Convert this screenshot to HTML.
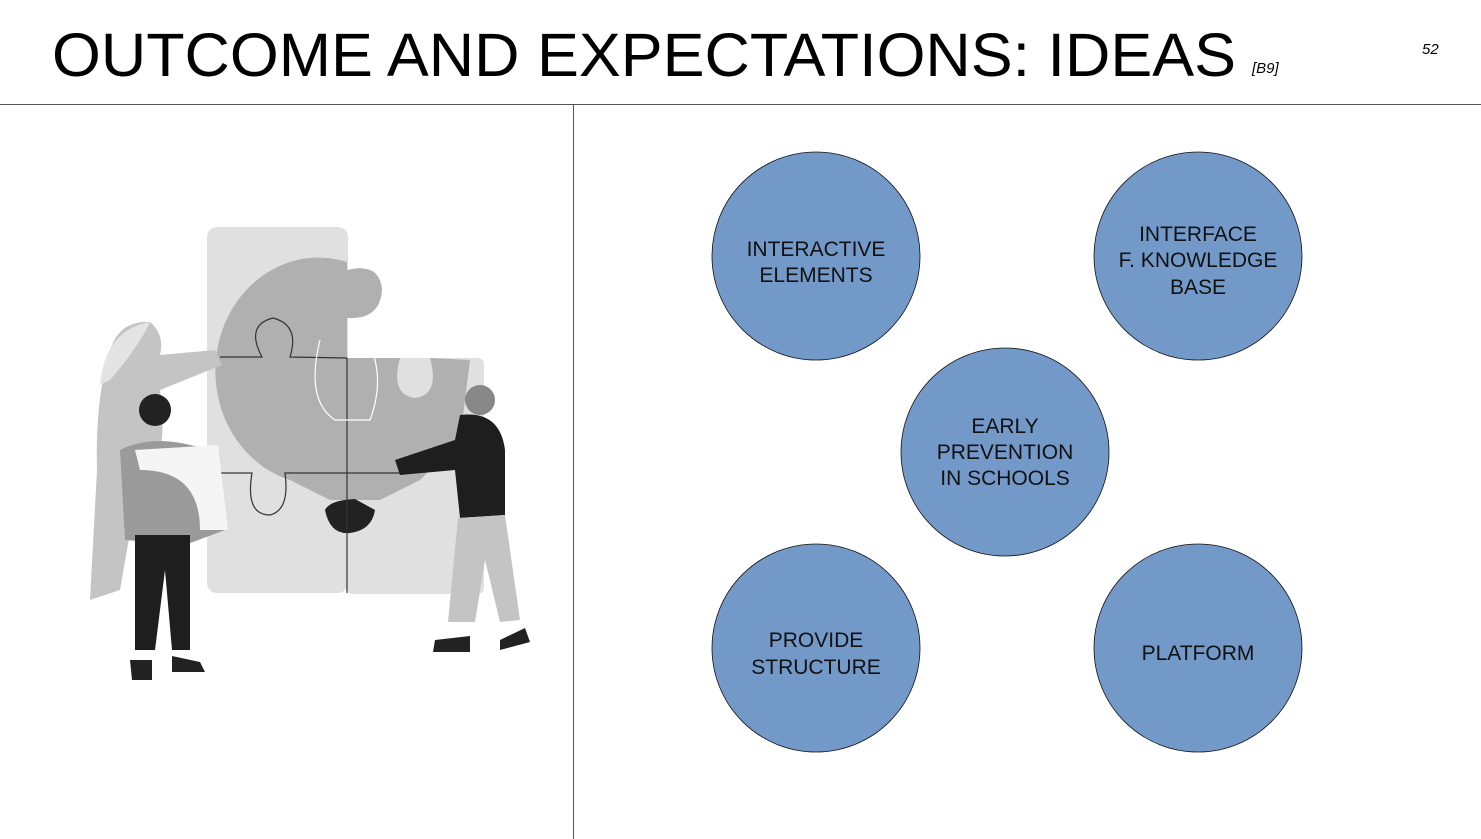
<!DOCTYPE html>
<html><head><meta charset="utf-8"><style>
html,body{margin:0;padding:0;background:#fff;}
body{width:1481px;height:839px;position:relative;overflow:hidden;font-family:"Liberation Sans",sans-serif;}
</style></head><body>
<svg width="1481" height="839" viewBox="0 0 1481 839" xmlns="http://www.w3.org/2000/svg" style="position:absolute;left:0;top:0">
<text x="52" y="76" font-family="Liberation Sans, sans-serif" font-size="61" textLength="1184" lengthAdjust="spacingAndGlyphs" fill="#000">OUTCOME AND EXPECTATIONS: IDEAS</text>
<text x="1252" y="73" font-family="Liberation Sans, sans-serif" font-size="15" font-style="italic" fill="#000">[B9]</text>
<text x="1422" y="54" font-family="Liberation Sans, sans-serif" font-size="15" font-style="italic" fill="#000">52</text>
<line x1="0" y1="104.5" x2="1481" y2="104.5" stroke="#555" stroke-width="1"/>
<line x1="573.5" y1="105" x2="573.5" y2="839" stroke="#555" stroke-width="1"/>

<!-- illustration -->
<rect x="207" y="227" width="141" height="366" rx="10" fill="#e0e0e0"/>
<rect x="347" y="358" width="137" height="236" rx="6" fill="#e0e0e0"/>
<path d="M347 262 A100 110 0 0 0 290 480 L330 500 L380 500 L420 480 L460 440 L470 360 L430 358 Q440 395 415 398 Q390 395 400 358 L347 358 L347 318 Q380 320 382 290 Q380 262 347 270 Z" fill="#b0b0b0"/>
<path d="M355 499 Q330 500 325 510 Q330 535 350 533 Q372 530 375 510 Z" fill="#222"/>
<path d="M220 357 L262 357 Q245 325 273 318 Q300 325 290 357 L347 358 M220 473 L252 473 Q245 515 270 515 Q290 510 285 473 L347 473 L410 473 M347 358 L347 593" stroke="#333" stroke-width="1.2" fill="none"/>
<path d="M320 340 Q305 400 335 420 L370 420 Q385 380 370 345" stroke="#fff" stroke-width="1.2" fill="none"/>
<!-- woman -->
<path d="M110 350 Q120 320 150 322 Q165 335 160 355 L215 350 L222 365 L160 390 Q170 470 140 475 L120 590 L90 600 L97 470 Q95 400 110 350Z" fill="#c4c4c4"/>
<path d="M100 385 Q105 330 150 322 Q140 345 110 380 Z" fill="#e4e4e4"/>
<!-- man left -->
<circle cx="155" cy="410" r="16" fill="#222"/>
<path d="M120 450 Q150 435 190 445 L215 450 L225 530 L185 545 L125 540 Z" fill="#9a9a9a"/>
<path d="M135 450 L218 445 L228 530 L200 530 Q200 470 140 470 Z" fill="#f5f5f5"/>
<path d="M135 535 L190 535 L190 650 L172 650 L165 570 L155 650 L135 650 Z" fill="#1e1e1e"/>
<path d="M130 660 L152 660 L152 680 L132 680Z M172 656 L200 662 L205 672 L172 672Z" fill="#222"/>
<!-- man right -->
<circle cx="480" cy="400" r="15" fill="#888"/>
<path d="M460 415 Q500 410 505 450 L505 515 L460 518 L455 470 L400 475 L395 460 L455 440 Z" fill="#1e1e1e"/>
<path d="M458 518 L505 515 L520 620 L500 622 L485 560 L475 622 L448 622 Z" fill="#c4c4c4"/>
<path d="M435 640 L470 636 L470 652 L433 652Z M500 640 L525 628 L530 642 L500 650Z" fill="#222"/>

<!-- circles -->
<g fill="#7399c9" stroke="#111" stroke-width="0.8">
<circle cx="816" cy="256" r="104"/>
<circle cx="1198" cy="256" r="104"/>
<circle cx="1005" cy="452" r="104"/>
<circle cx="816" cy="648" r="104"/>
<circle cx="1198" cy="648" r="104"/>
</g>
<g font-family="Liberation Sans, sans-serif" font-size="21" fill="#111" text-anchor="middle">
<text x="816" y="256">INTERACTIVE</text><text x="816" y="282">ELEMENTS</text>
<text x="1198" y="241">INTERFACE</text><text x="1198" y="267">F. KNOWLEDGE</text><text x="1198" y="294">BASE</text>
<text x="1005" y="433">EARLY</text><text x="1005" y="459">PREVENTION</text><text x="1005" y="485">IN SCHOOLS</text>
<text x="816" y="647">PROVIDE</text><text x="816" y="674">STRUCTURE</text>
<text x="1198" y="660">PLATFORM</text>
</g>
</svg>
</body></html>
